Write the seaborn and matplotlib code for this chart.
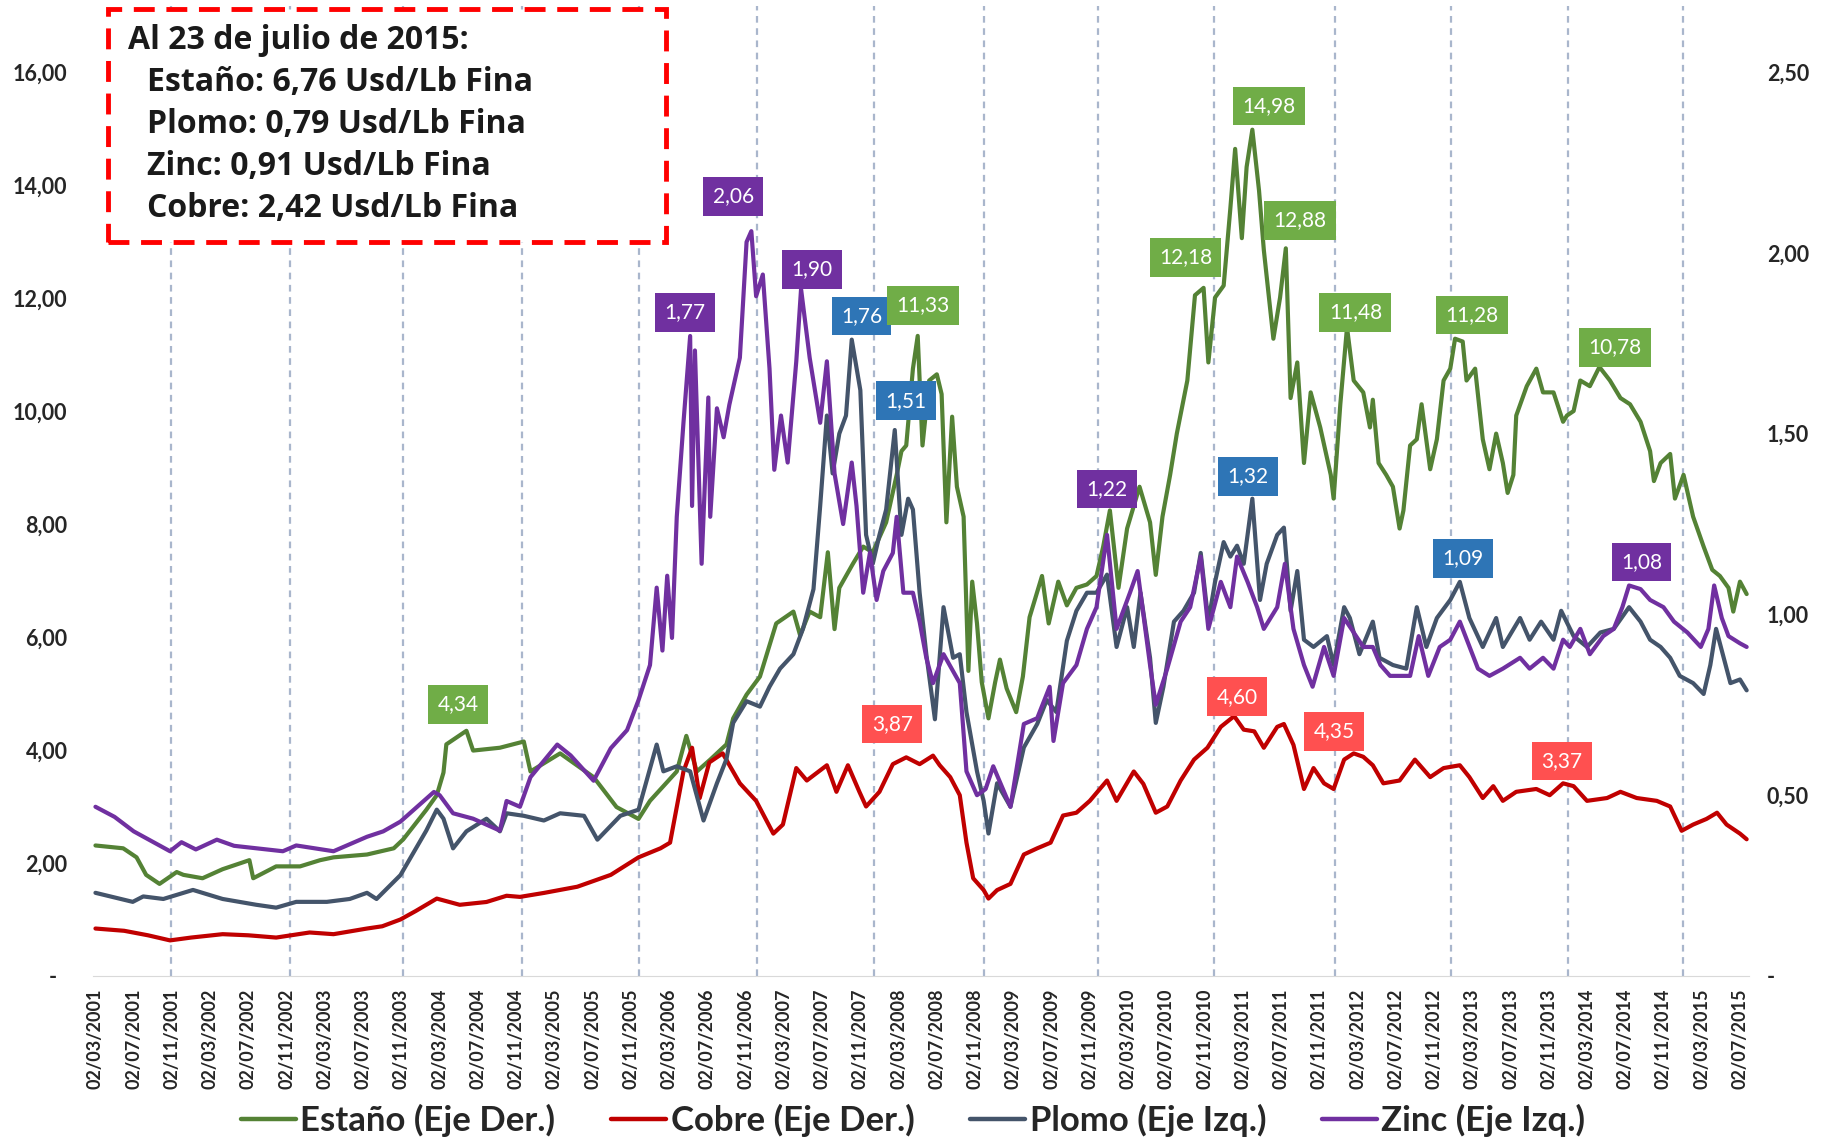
import numpy as np
import pandas as pd
import matplotlib
matplotlib.use('Agg')
import matplotlib.pyplot as plt
import seaborn as sns
from matplotlib.patches import Rectangle

# Precios (Usd/Lb fina). x = meses desde 02/03/2001
estano = [(0, 2.31), (2.9, 2.26), (4.3, 2.10), (5.3, 1.79), (6.7, 1.63), (8.5, 1.84), (9.2, 1.79), (11.2, 1.73),
          (13.3, 1.89), (16.1, 2.05), (16.5, 1.73), (18.9, 1.94), (21.4, 1.94), (23.5, 2.05), (24.9, 2.10), (28.4, 2.15),
          (31.2, 2.26), (32.2, 2.42), (34.6, 2.94), (35.7, 3.20), (36.4, 3.60), (36.7, 4.10), (38.8, 4.34), (39.5, 3.99),
          (42.3, 4.04), (44.8, 4.15), (45.5, 3.62), (48.6, 3.94), (52.1, 3.52), (54.5, 2.99), (56.8, 2.78), (58.0, 3.10),
          (60.8, 3.62), (61.8, 4.25), (62.9, 3.62), (64.3, 3.83), (66.0, 4.10), (66.7, 4.56), (68.1, 4.98), (69.5, 5.30),
          (71.2, 6.24), (73.0, 6.45), (73.7, 6.03), (74.7, 6.45), (75.8, 6.35), (76.6, 7.50), (77.3, 6.14), (77.8, 6.87),
          (79.2, 7.29), (80.3, 7.60), (81.3, 7.50), (82.7, 8.03), (83.8, 8.87), (84.3, 9.29), (84.8, 9.39), (85.5, 10.75),
          (86.0, 11.33), (86.5, 9.39), (87.2, 10.54), (88.0, 10.65), (88.5, 10.30), (89.0, 8.03), (89.6, 9.90),
          (90.1, 8.66), (90.8, 8.13), (91.3, 5.40), (91.7, 6.98), (92.2, 6.24), (92.7, 5.20), (93.4, 4.56), (94.1, 5.20),
          (94.6, 5.60), (95.3, 5.09), (96.3, 4.67), (97.0, 5.30), (97.7, 6.35), (99.0, 7.08), (99.7, 6.24), (100.7, 6.98),
          (101.6, 6.56), (102.6, 6.87), (103.7, 6.93), (104.7, 7.08), (105.4, 7.60), (106.1, 8.24), (107.0, 6.87),
          (107.9, 7.92), (109.2, 8.66), (110.3, 8.03), (110.9, 7.10), (111.6, 8.13), (112.4, 8.87), (113.1, 9.60),
          (114.2, 10.54), (115.0, 12.05), (115.9, 12.18), (116.4, 10.86), (117.1, 12.01), (118.0, 12.22), (118.7, 13.59),
          (119.2, 14.64), (119.9, 13.06), (120.4, 14.32), (121.0, 14.98), (121.7, 13.90), (122.2, 12.85), (123.2, 11.28),
          (123.9, 12.01), (124.5, 12.88), (125.0, 10.23), (125.7, 10.86), (126.4, 9.08), (127.1, 10.33), (128.1, 9.71),
          (129.2, 8.87), (129.5, 8.45), (130.2, 10.12), (130.9, 11.48), (131.6, 10.54), (132.6, 10.33), (133.3, 9.71),
          (133.6, 10.20), (134.2, 9.08), (135.0, 8.87), (135.7, 8.66), (136.4, 7.92), (136.8, 8.24), (137.5, 9.39),
          (138.2, 9.50), (138.7, 10.12), (139.6, 8.97), (140.3, 9.50), (141.0, 10.54), (141.7, 10.75), (142.2, 11.28),
          (143.0, 11.23), (143.4, 10.54), (144.3, 10.75), (145.1, 9.50), (145.8, 8.97), (146.5, 9.60), (147.2, 9.08),
          (147.7, 8.55), (148.3, 8.87), (148.6, 9.92), (149.7, 10.44), (150.7, 10.75), (151.4, 10.33), (152.5, 10.33),
          (153.5, 9.81), (153.9, 9.92), (154.6, 10.00), (155.3, 10.54), (156.3, 10.44), (157.3, 10.78), (158.4, 10.54),
          (159.5, 10.23), (160.5, 10.12), (161.6, 9.81), (162.6, 9.29), (163.0, 8.76), (163.7, 9.08), (164.7, 9.24),
          (165.2, 8.45), (166.1, 8.87), (167.1, 8.13), (168.2, 7.60), (169.1, 7.19), (169.9, 7.08), (170.8, 6.87),
          (171.3, 6.45), (172.0, 6.98), (172.7, 6.76)]

cobre = [(0, 0.84), (3.0, 0.80), (5.5, 0.72), (7.8, 0.63), (10.0, 0.68), (13.3, 0.74), (16.0, 0.72), (18.9, 0.68),
         (22.4, 0.77), (24.9, 0.74), (28.4, 0.84), (30.0, 0.88), (31.9, 1.00), (33.5, 1.15), (35.7, 1.37), (38.1, 1.26),
         (40.9, 1.31), (43.0, 1.42), (44.4, 1.40), (46.9, 1.47), (50.4, 1.58), (53.9, 1.79), (56.8, 2.10), (59.1, 2.26),
         (60.1, 2.36), (61.5, 3.62), (62.4, 4.04), (63.2, 3.15), (64.2, 3.78), (65.6, 3.94), (67.4, 3.41), (69.1, 3.10),
         (70.9, 2.52), (71.9, 2.68), (73.3, 3.68), (74.4, 3.46), (76.5, 3.73), (77.5, 3.26), (78.7, 3.73), (79.9, 3.26),
         (80.6, 3.00), (82.0, 3.26), (83.4, 3.75), (84.8, 3.87), (86.2, 3.75), (87.6, 3.90), (88.3, 3.73), (89.4, 3.52),
         (90.4, 3.20), (91.1, 2.36), (91.8, 1.73), (92.9, 1.52), (93.4, 1.37), (94.3, 1.52), (95.7, 1.63), (97.1, 2.15),
         (98.5, 2.26), (99.9, 2.36), (101.2, 2.84), (102.6, 2.89), (104.0, 3.10), (105.8, 3.46), (106.8, 3.10),
         (108.6, 3.62), (109.6, 3.40), (110.9, 2.89), (112.1, 3.00), (113.5, 3.46), (114.9, 3.83), (116.3, 4.04),
         (117.7, 4.41), (119.1, 4.60), (120.1, 4.36), (121.2, 4.33), (122.2, 4.04), (123.6, 4.41), (124.3, 4.46),
         (125.3, 4.09), (126.4, 3.31), (127.4, 3.68), (128.5, 3.41), (129.5, 3.31), (130.6, 3.83), (131.6, 3.94),
         (132.6, 3.88), (133.6, 3.73), (134.7, 3.41), (136.4, 3.46), (138.0, 3.83), (139.6, 3.52), (141.0, 3.68),
         (142.7, 3.73), (143.7, 3.52), (145.1, 3.15), (146.2, 3.36), (147.2, 3.10), (148.6, 3.26), (150.7, 3.31),
         (152.1, 3.20), (153.5, 3.41), (154.6, 3.36), (156.0, 3.10), (158.1, 3.15), (159.5, 3.26), (161.2, 3.15),
         (163.3, 3.10), (164.7, 3.00), (165.9, 2.57), (167.1, 2.68), (168.5, 2.78), (169.6, 2.89), (170.6, 2.68),
         (172.0, 2.52), (172.7, 2.42)]

plomo = [(0, 0.230), (3.9, 0.205), (5.0, 0.220), (7.1, 0.213), (10.2, 0.238), (13.3, 0.213), (16.8, 0.197),
         (18.9, 0.189), (21.0, 0.205), (24.2, 0.205), (26.6, 0.213), (28.4, 0.230), (29.4, 0.213), (31.9, 0.279),
         (34.6, 0.402), (35.7, 0.460), (36.4, 0.435), (37.4, 0.353), (38.8, 0.400), (40.9, 0.435), (42.3, 0.400),
         (43.0, 0.450), (44.8, 0.443), (46.9, 0.430), (48.6, 0.450), (51.1, 0.443), (52.5, 0.377), (54.9, 0.443),
         (56.8, 0.460), (58.7, 0.640), (59.4, 0.566), (60.8, 0.580), (62.2, 0.566), (63.6, 0.430), (65.0, 0.533),
         (66.0, 0.600), (66.7, 0.700), (68.1, 0.760), (69.5, 0.745), (70.5, 0.800), (71.6, 0.850), (73.0, 0.890),
         (74.0, 0.960), (75.1, 1.070), (75.8, 1.300), (76.5, 1.550), (77.1, 1.390), (77.8, 1.500), (78.5, 1.550),
         (79.1, 1.760), (80.0, 1.620), (80.6, 1.220), (81.3, 1.140), (82.0, 1.220), (82.7, 1.290), (83.6, 1.510),
         (84.3, 1.220), (85.0, 1.320), (85.5, 1.290), (86.2, 1.060), (86.9, 0.890), (87.8, 0.710), (88.7, 1.020),
         (89.7, 0.880), (90.4, 0.890), (91.1, 0.730), (92.2, 0.566), (92.9, 0.484), (93.4, 0.394), (94.3, 0.533),
         (95.7, 0.468), (97.1, 0.632), (98.5, 0.697), (99.5, 0.763), (100.5, 0.730), (101.6, 0.927), (102.6, 1.010),
         (103.7, 1.060), (104.7, 1.060), (105.8, 1.110), (106.8, 0.910), (107.9, 1.020), (108.6, 0.910), (109.3, 1.060),
         (110.3, 0.880), (110.9, 0.700), (111.7, 0.800), (112.8, 0.980), (113.8, 1.010), (114.9, 1.060), (115.6, 1.170),
         (116.4, 0.980), (117.1, 1.090), (118.0, 1.200), (118.7, 1.160), (119.4, 1.190), (120.1, 1.140), (121.0, 1.320),
         (121.8, 1.040), (122.5, 1.140), (123.6, 1.220), (124.3, 1.240), (125.0, 1.010), (125.7, 1.120), (126.4, 0.930),
         (127.4, 0.910), (128.8, 0.940), (129.5, 0.860), (130.6, 1.020), (131.2, 0.990), (132.2, 0.890), (133.6, 0.980),
         (134.3, 0.880), (135.7, 0.860), (137.1, 0.850), (138.2, 1.020), (139.2, 0.910), (140.3, 0.990), (141.7, 1.040),
         (142.7, 1.090), (143.7, 0.990), (145.1, 0.910), (146.5, 0.990), (147.2, 0.910), (149.0, 0.990), (150.0, 0.930),
         (151.2, 0.980), (152.5, 0.930), (153.3, 1.010), (154.6, 0.940), (156.0, 0.910), (157.4, 0.950), (158.8, 0.960),
         (160.4, 1.020), (161.6, 0.980), (162.6, 0.930), (163.7, 0.910), (164.7, 0.880), (165.7, 0.830), (167.1, 0.810),
         (168.2, 0.780), (168.9, 0.860), (169.5, 0.960), (170.3, 0.880), (171.0, 0.810), (172.0, 0.820), (172.7, 0.790)]

zinc = [(0, 0.468), (2.0, 0.440), (4.0, 0.400), (7.8, 0.345), (9.0, 0.370), (10.5, 0.350), (12.7, 0.377), (14.5, 0.360),
        (16.9, 0.353), (19.6, 0.345), (21.0, 0.361), (24.9, 0.345), (28.4, 0.385), (30.1, 0.400), (31.9, 0.427),
        (35.4, 0.509), (36.0, 0.500), (37.4, 0.450), (39.5, 0.435), (42.3, 0.402), (43.0, 0.484), (44.4, 0.468),
        (45.5, 0.550), (48.3, 0.640), (49.7, 0.610), (52.1, 0.540), (53.9, 0.630), (55.6, 0.680), (56.8, 0.763),
        (58.0, 0.860), (58.7, 1.074), (59.3, 0.900), (59.8, 1.107), (60.3, 0.935), (60.8, 1.270), (61.5, 1.530),
        (62.2, 1.770), (62.4, 1.300), (62.7, 1.730), (63.4, 1.140), (64.1, 1.600), (64.3, 1.270), (65.0, 1.570),
        (65.7, 1.490), (66.3, 1.580), (67.4, 1.710), (68.1, 2.030), (68.6, 2.060), (69.1, 1.880), (69.8, 1.940),
        (70.5, 1.680), (71.0, 1.400), (71.7, 1.550), (72.4, 1.420), (73.3, 1.700), (73.8, 1.900), (74.7, 1.710),
        (75.8, 1.530), (76.5, 1.700), (77.3, 1.390), (78.2, 1.250), (79.1, 1.420), (79.6, 1.300), (80.3, 1.060),
        (81.0, 1.170), (81.7, 1.040), (82.4, 1.120), (83.4, 1.170), (83.8, 1.270), (84.5, 1.060), (85.5, 1.060),
        (86.2, 0.980), (86.9, 0.880), (87.6, 0.810), (88.7, 0.890), (90.4, 0.810), (91.1, 0.566), (92.2, 0.500),
        (93.1, 0.517), (93.9, 0.580), (95.7, 0.468), (97.1, 0.697), (98.5, 0.713), (99.8, 0.800), (100.2, 0.650),
        (101.2, 0.810), (102.6, 0.860), (103.7, 0.960), (104.7, 1.020), (105.8, 1.220), (106.8, 0.960), (108.2, 1.060),
        (109.0, 1.120), (110.3, 0.860), (110.9, 0.750), (112.1, 0.850), (113.5, 0.980), (114.5, 1.020), (115.6, 1.160),
        (116.4, 0.960), (117.7, 1.090), (118.7, 1.020), (119.4, 1.160), (120.5, 1.090), (121.5, 1.020), (122.2, 0.960),
        (123.6, 1.020), (124.4, 1.140), (125.3, 0.960), (126.4, 0.860), (127.3, 0.800), (128.5, 0.910), (129.5, 0.830),
        (130.6, 0.990), (132.6, 0.910), (133.6, 0.910), (134.4, 0.860), (135.4, 0.830), (136.4, 0.830), (137.5, 0.830),
        (138.4, 0.940), (139.4, 0.830), (140.6, 0.910), (141.7, 0.930), (142.7, 0.980), (144.6, 0.850), (145.8, 0.830),
        (147.2, 0.850), (149.0, 0.880), (150.0, 0.850), (151.4, 0.880), (152.5, 0.850), (153.5, 0.930), (154.2, 0.910),
        (155.3, 0.960), (156.3, 0.890), (157.7, 0.940), (158.8, 0.960), (159.7, 1.020), (160.4, 1.080), (161.6, 1.070),
        (162.6, 1.040), (164.0, 1.020), (165.1, 0.980), (166.5, 0.950), (167.9, 0.910), (168.7, 0.960), (169.3, 1.080),
        (170.1, 0.990), (170.8, 0.940), (172.0, 0.920), (172.7, 0.910)]

# Etiquetas de máximos: (texto, serie, mes)
etiquetas = [('4,34', 'estano', 38.8), ('1,77', 'zinc', 62.2), ('2,06', 'zinc', 68.6), ('1,90', 'zinc', 73.8),
             ('1,76', 'plomo', 79.1), ('11,33', 'estano', 86.0), ('1,51', 'plomo', 83.6), ('3,87', 'cobre', 84.8),
             ('1,22', 'zinc', 105.8), ('12,18', 'estano', 115.9), ('14,98', 'estano', 121.0), ('12,88', 'estano', 124.5),
             ('1,32', 'plomo', 121.0), ('4,60', 'cobre', 119.1), ('11,48', 'estano', 130.9), ('4,35', 'cobre', 131.6),
             ('11,28', 'estano', 142.2), ('1,09', 'plomo', 142.7), ('3,37', 'cobre', 153.5), ('10,78', 'estano', 157.3),
             ('1,08', 'zinc', 160.4)]
desplaz = [(-6, 19), (-4, 17), (-13, 25), (8, 14), (7, 17), (4, 22), (8, 21), (-10, 24), (0, 33), (-13, 22),
           (12, 17), (10, 20), (-3, 16), (2, 14), (6, 11), (-14, 16), (12, 17), (2, 17), (-1, 16), (11, 14), (9, 17)]

separadores = [7.9, 20.3, 32.2, 44.6, 56.8, 69.2, 81.4, 92.9, 104.9, 117.0, 129.6, 141.8, 154.0, 166.0]

resumen = ['Al 23 de julio de 2015:', 'Estaño: 6,76 Usd/Lb Fina', 'Plomo: 0,79 Usd/Lb Fina',
           'Zinc: 0,91 Usd/Lb Fina', 'Cobre: 2,42 Usd/Lb Fina']

series = {
    'estano': (estano, 'Estaño (Eje Der.)', '#548235', 'izq', '#70AD47'),
    'cobre': (cobre, 'Cobre (Eje Der.)', '#C00000', 'izq', '#FF5050'),
    'plomo': (plomo, 'Plomo (Eje Izq.)', '#44546A', 'der', '#2E75B6'),
    'zinc': (zinc, 'Zinc (Eje Izq.)', '#7030A0', 'der', '#7030A0'),
}

sns.set_style('white')
plt.rcParams['font.family'] = ['Lato', 'DejaVu Sans']

fig = plt.figure(figsize=(18.26, 11.47), dpi=100)
ax = fig.add_axes([0.0507, 0.1491, 0.9069, 0.8457])
ax2 = ax.twinx()

for sep in separadores:
    ax.axvline(sep, color='#A9B6CC', lw=1.6, ls=(0, (3, 2.5)), zorder=0)

for clave, (datos, nombre, color, eje, _) in series.items():
    df = pd.DataFrame(datos, columns=['mes', 'valor'])
    destino = ax if eje == 'izq' else ax2
    sns.lineplot(data=df, x='mes', y='valor', ax=destino, color=color, lw=3.0,
                 label=nombre, errorbar=None)

for a in (ax, ax2):
    a.set_xlabel('')
    a.set_ylabel('')
    for s in ['top', 'left', 'right']:
        a.spines[s].set_visible(False)
ax2.spines['bottom'].set_visible(False)
ax.spines['bottom'].set_color('#D9D9D9')

# eje x
ax.set_xlim(-0.3, 172.9)
fechas = pd.date_range('2001-03-02', periods=44, freq=pd.DateOffset(months=4)).strftime('%d/%m/%Y')
ax.set_xticks(np.arange(0, 173, 4))
ax.set_xticklabels(fechas, rotation=90, fontsize=13, fontweight='bold', color='#262626')
ax.tick_params(axis='x', length=7, color='#D9D9D9', width=1, pad=2)

# ejes y
tope = 17.17
ax.set_ylim(0, tope)
ax.set_yticks(np.arange(0, 17, 2))
ax.set_yticklabels(['-  '] + [f'{v:.2f}'.replace('.', ',') for v in np.arange(2, 17, 2)])
ax.tick_params(axis='y', length=0, pad=18, labelsize=15.5)
ax2.set_ylim(0, tope * 2.5 / 16)
ax2.set_yticks(np.arange(0, 2.51, 0.5))
ax2.set_yticklabels(['-'] + [f'{v:.2f}'.replace('.', ',') for v in np.arange(0.5, 2.51, 0.5)])
ax2.tick_params(axis='y', length=0, pad=13, labelsize=15.5)
for lbl in ax.get_yticklabels() + ax2.get_yticklabels():
    lbl.set_fontweight('bold')
    lbl.set_color('#262626')

# etiquetas de datos
for (texto, clave, mes), (dx, dy) in zip(etiquetas, desplaz):
    datos, _, _, eje, fondo = series[clave]
    xs, ys = zip(*datos)
    yv = np.interp(mes, xs, ys)
    trans = ax.transData if eje == 'izq' else ax2.transData
    ax2.annotate(texto, xy=(mes, yv), xycoords=trans, xytext=(dx, dy), textcoords='offset points',
                 ha='center', va='center', fontsize=15, color='white', zorder=10,
                 bbox=dict(boxstyle='square,pad=0.45', fc=fondo, ec='none'))

# leyenda
h1, l1 = ax.get_legend_handles_labels()
h2, l2 = ax2.get_legend_handles_labels()
ax.get_legend().remove()
ax2.get_legend().remove()
leg = fig.legend(h1 + h2, l1 + l2, loc='center', bbox_to_anchor=(0.5, 0.023), ncol=4, frameon=False,
                 prop={'size': 25, 'weight': 'bold'}, handlelength=1.6, handletextpad=0.12, columnspacing=1.6)
for ln in leg.get_lines():
    ln.set_linewidth(3.2)

# recuadro
caja = Rectangle((0.0592, 0.789), 0.3055, 0.203, transform=fig.transFigure, facecolor='white',
                 edgecolor='#FF0000', lw=3.5, ls=(0, (4.3, 2.4)), zorder=3)
fig.add_artist(caja)
ys_txt = [0.9644, 0.9279, 0.8914, 0.8548, 0.8182]
for i, (linea, yt) in enumerate(zip(resumen, ys_txt)):
    fig.text(0.0701 if i == 0 else 0.0803, yt, linea, fontsize=23, fontweight='bold',
             family=['Open Sans', 'DejaVu Sans'], va='center', ha='left', color='#1a1a1a', zorder=4)

fig.savefig('out.png', dpi=100, facecolor='white')
